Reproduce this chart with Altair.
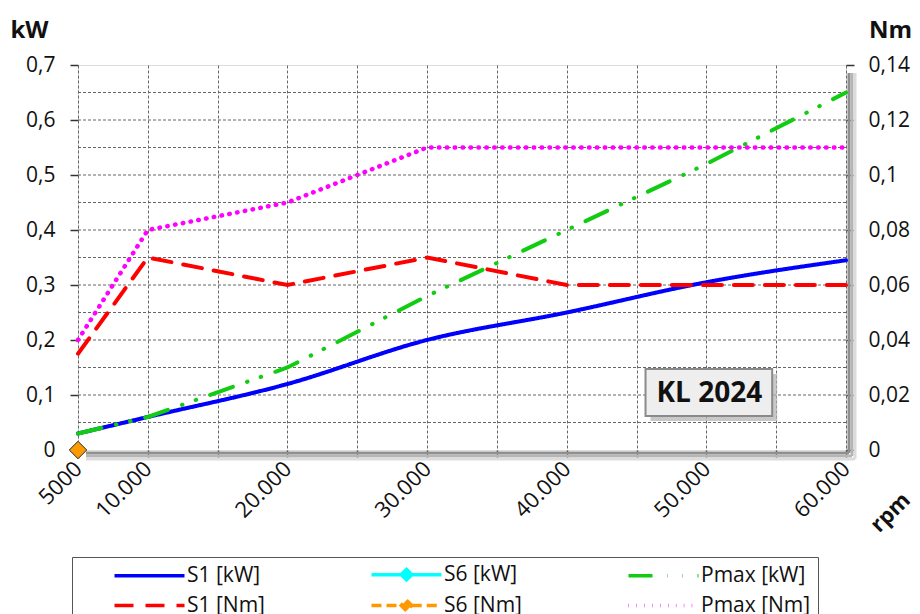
import altair as alt
import pandas as pd

# ---- data ----
rpm = [5000, 10000, 20000, 30000, 40000, 50000, 60000]
s1_kw = [0.03, 0.06, 0.12, 0.20, 0.25, 0.305, 0.345]
pmax_kw = [0.03, 0.06, 0.15, 0.28, 0.40, 0.52, 0.65]
s1_nm = [0.035, 0.07, 0.06, 0.07, 0.06, 0.06, 0.06]
pmax_nm = [0.04, 0.08, 0.09, 0.11, 0.11, 0.11, 0.11]
s6_rpm = [5000]
s6_kw = [0.0]
s6_nm = [0.0]

series = ["S1 [kW]", "S6 [kW]", "Pmax [kW]", "S1 [Nm]", "S6 [Nm]", "Pmax [Nm]"]
colors = ["#0000ff", "#00ffff", "#11cc11", "#ff0000", "#ff9900", "#ff00ff"]
# dash patterns of the plotted lines (round caps)
line_dashes = [[1, 0], [1, 0], [24, 15, 0.5, 14, 0.5, 15], [19, 12], [10, 5], [0.5, 7.4]]
# dash patterns of the legend samples
legend_dashes = [[1, 0], [1, 0], [26, 11, 4, 10, 4, 15], [26, 16], [10, 4], [3.5, 3]]
line_widths = {"S1 [kW]": 4, "Pmax [kW]": 4, "S1 [Nm]": 4, "Pmax [Nm]": 4.5}

x_ticks = [5000, 10000, 15000, 20000, 25000, 30000, 35000, 40000, 45000, 50000, 55000, 60000]
x_labels = ["5000", "10.000", "", "20.000", "", "30.000", "", "40.000", "", "50.000", "", "60.000"]
kw_ticks = [0, 0.1, 0.2, 0.3, 0.4, 0.5, 0.6, 0.7]
kw_labels = ["0", "0,1", "0,2", "0,3", "0,4", "0,5", "0,6", "0,7"]
nm_ticks = [0, 0.02, 0.04, 0.06, 0.08, 0.1, 0.12, 0.14]
nm_labels = ["0", "0,02", "0,04", "0,06", "0,08", "0,1", "0,12", "0,14"]
kw_grid = [0.05, 0.1, 0.15, 0.2, 0.25, 0.3, 0.35, 0.4, 0.45, 0.5, 0.55, 0.6, 0.65]

note_text = ["KL 2024"]
note_x = [50214]
note_y = [0.1018]
note_box_x = [45643]
note_box_x2 = [54714]
note_box_y = [0.1473]
note_box_y2 = [0.0618]

X_DOMAIN = [5000, 60000]
KW_DOMAIN = [0, 0.7]
NM_DOMAIN = [0, 0.14]

FONT = "Open Sans"


def label_expr(ticks, labels):
    return "%s[indexof(%s, datum.value)]" % (repr(labels), repr(ticks))


def dash_expr(dashes):
    parts = ["datum.value == '%s' ? %s : " % (s, repr(d)) for s, d in zip(series, dashes)]
    return "".join(parts) + "[1, 0]"


def series_df(name, values):
    return pd.DataFrame({"rpm": rpm, "value": values, "series": [name] * len(rpm),
                         "dkey": [name] * len(rpm)})


grid_df = pd.DataFrame({"value": kw_grid})
note_df = pd.DataFrame({"t": note_text, "x": note_x, "y": note_y,
                        "bx": note_box_x, "bx2": note_box_x2,
                        "by": note_box_y, "by2": note_box_y2})
s6kw_df = pd.DataFrame({"rpm": s6_rpm, "value": s6_kw})
s6nm_df = pd.DataFrame({"rpm": s6_rpm, "value": s6_nm})
frame_df = pd.DataFrame({"x0": [X_DOMAIN[0]], "x1": [X_DOMAIN[1]],
                         "y0": [KW_DOMAIN[0]], "y1": [KW_DOMAIN[1]]})

x_scale = alt.Scale(domain=X_DOMAIN, nice=False, zero=False)
kw_scale = alt.Scale(domain=KW_DOMAIN, nice=False)
nm_scale = alt.Scale(domain=NM_DOMAIN, nice=False)

x_axis = alt.Axis(values=x_ticks, labelExpr=label_expr(x_ticks, x_labels),
                  labelAngle=-45, labelAlign="right", labelBaseline="middle",
                  labelFontSize=22, labelFont=FONT, labelColor="#111",
                  labelPadding=7, grid=True, gridColor="#666", gridDash=[3, 2], gridWidth=1,
                  domain=False, ticks=True, tickSize=8, tickColor="#333", tickWidth=1.5,
                  title="rpm", titleAngle=315, titleFontSize=22, titleFont=FONT,
                  titleFontWeight="bold", titleColor="#111", titleX=812, titleY=62,
                  titleAlign="center", titleBaseline="middle")
kw_axis = alt.Axis(values=kw_ticks, labelExpr=label_expr(kw_ticks, kw_labels),
                   labelFontSize=21, labelFont=FONT, labelColor="#111", labelPadding=15,
                   grid=False, domain=False, tickSize=8, tickColor="#333", tickWidth=1.5,
                   title="kW", titleAngle=0, titleFontSize=24, titleFont=FONT,
                   titleFontWeight="bold", titleColor="#111", titleX=-49, titleY=-35,
                   titleAlign="center", titleBaseline="middle")
nm_axis = alt.Axis(orient="right", values=nm_ticks, labelExpr=label_expr(nm_ticks, nm_labels),
                   labelFontSize=21, labelFont=FONT, labelColor="#111", labelPadding=14,
                   grid=False, domain=False, tickSize=8, tickColor="#333", tickWidth=1.5,
                   title="Nm", titleAngle=0, titleFontSize=24, titleFont=FONT,
                   titleFontWeight="bold", titleColor="#111", titleX=44, titleY=-35,
                   titleAlign="center", titleBaseline="middle")

line_path = "M-1,0H9"
diamond_path = "M-1,0H3.25M4.75,0H9M4,-0.75L4.75,0L4,0.75L3.25,0Z"

legend = alt.Legend(
    orient="none", legendX=-6, legendY=492, direction="horizontal", columns=3,
    columnPadding=71, rowPadding=6,
    padding=7, strokeColor="#555", fillColor="#ffffff",
    labelFont=FONT, labelFontSize=21, labelColor="#111", labelOffset=55,
    symbolSize=196, symbolStrokeWidth=3.5, symbolOffset=32,
    symbolType={"expr": "indexof(['S6 [kW]','S6 [Nm]'], datum.value) >= 0 ? '%s' : '%s'" % (diamond_path, line_path)},
    symbolFillColor={"expr": "datum.value == 'S6 [kW]' ? '#00ffff' : (datum.value == 'S6 [Nm]' ? '#ff9900' : 'transparent')"},
    symbolDash={"expr": dash_expr(legend_dashes)},
)

color_enc = alt.Color("series:N", title=None, scale=alt.Scale(domain=series, range=colors), legend=legend)
dash_enc = alt.StrokeDash("dkey:N", scale=alt.Scale(domain=series, range=line_dashes), legend=None)
x_enc = alt.X("rpm:Q", scale=x_scale, axis=x_axis)


def line_layer(name, values, scale, axis, **kw):
    return alt.Chart(series_df(name, values)).mark_line(
        strokeWidth=line_widths[name], strokeCap="round", **kw).encode(
        x=x_enc, y=alt.Y("value:Q", scale=scale, axis=axis),
        color=color_enc, strokeDash=dash_enc)


# soft drop shadow along the right and bottom edge of the plot frame
shadow_layers = []
for off, width, col in [(3, 3, "#8f8f8f"), (6, 3, "#b5b5b5"), (9, 3, "#dcdcdc")]:
    shadow_layers.append(alt.Chart(frame_df).mark_rule(
        strokeWidth=width, color=col, xOffset=off, yOffset=8, y2Offset=off).encode(
        x=alt.X("x1:Q", scale=x_scale, axis=x_axis),
        y=alt.Y("y1:Q", scale=kw_scale, axis=kw_axis), y2="y0:Q"))
    shadow_layers.append(alt.Chart(frame_df).mark_rule(
        strokeWidth=width, color=col, yOffset=off, xOffset=8, x2Offset=off).encode(
        x=alt.X("x0:Q", scale=x_scale, axis=x_axis), x2="x1:Q",
        y=alt.Y("y0:Q", scale=kw_scale, axis=kw_axis)))

grid = alt.Chart(grid_df).mark_rule(color="#666", strokeDash=[3, 2], strokeWidth=1).encode(
    y=alt.Y("value:Q", scale=kw_scale, axis=kw_axis))

s1 = line_layer("S1 [kW]", s1_kw, kw_scale, kw_axis, interpolate="monotone")
pmax = line_layer("Pmax [kW]", pmax_kw, kw_scale, kw_axis)

box_shadow = alt.Chart(note_df).mark_rect(fill="#b0b0b0", opacity=0.7,
                                          xOffset=5, x2Offset=5, yOffset=5, y2Offset=5).encode(
    x=alt.X("bx:Q", scale=x_scale, axis=x_axis), x2="bx2:Q",
    y=alt.Y("by:Q", scale=kw_scale, axis=kw_axis), y2="by2:Q")
box = alt.Chart(note_df).mark_rect(fill="#eeeeee", stroke="#8a8a8a", strokeWidth=2).encode(
    x=alt.X("bx:Q", scale=x_scale, axis=x_axis), x2="bx2:Q",
    y=alt.Y("by:Q", scale=kw_scale, axis=kw_axis), y2="by2:Q")
txt = alt.Chart(note_df).mark_text(font=FONT, fontSize=28, fontWeight="bold", color="#111").encode(
    x=alt.X("x:Q", scale=x_scale, axis=x_axis),
    y=alt.Y("y:Q", scale=kw_scale, axis=kw_axis), text="t:N")

s6kw = alt.Chart(s6kw_df).mark_point(shape="diamond", filled=True, size=300, fill="#00ffff",
                                     stroke="#555", strokeWidth=1, opacity=1).encode(
    x=x_enc, y=alt.Y("value:Q", scale=kw_scale, axis=kw_axis))

kw_layer = alt.layer(*shadow_layers, grid, s1, pmax, box_shadow, box, txt, s6kw)

s1n = line_layer("S1 [Nm]", s1_nm, nm_scale, nm_axis)
pmaxn = line_layer("Pmax [Nm]", pmax_nm, nm_scale, nm_axis)
s6nm = alt.Chart(s6nm_df).mark_point(shape="diamond", filled=True, size=300, fill="#ff9900",
                                     stroke="#444", strokeWidth=1, opacity=1).encode(
    x=x_enc, y=alt.Y("value:Q", scale=nm_scale, axis=nm_axis))
nm_layer = alt.layer(s1n, pmaxn, s6nm)

chart = alt.layer(kw_layer, nm_layer).resolve_scale(y="independent").properties(
    width=768, height=385,
    autosize=alt.AutoSizeParams(type="none"),
    padding={"left": 70, "top": 57, "right": 66, "bottom": 164},
).configure_view(stroke="#2d2d14", strokeWidth=2.5).configure(background="#ffffff")

chart.save("out.html", embed_options={"renderer": "svg", "actions": False})
